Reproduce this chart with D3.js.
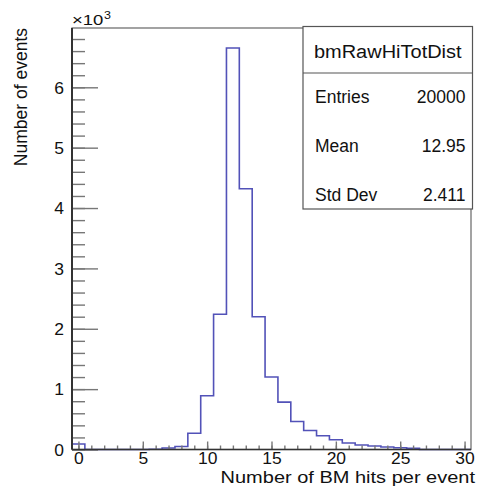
<!DOCTYPE html>
<html>
<head>
<meta charset="utf-8">
<script src="https://cdn.jsdelivr.net/npm/d3@7"></script>
<style>
  html, body { margin: 0; padding: 0; background: #fff; }
  svg { display: block; font-family: "Liberation Sans", Arial, sans-serif; }
</style>
</head>
<body>
<svg id="chart" width="477" height="486"></svg>
<script>
// histogram bins: width 1, first bin starts at -0.5
const binStart = -0.5;
const binWidth = 1;
const binCounts = [90, 0, 0, 0, 0, 0, 3, 25, 50, 270, 890, 2240, 6650, 4320, 2200,
    1200, 785, 465, 316, 228, 162, 107, 74, 58, 41, 30, 18, 0, 0, 0, 0];

const xMajorTicks = [0, 5, 10, 15, 20, 25, 30];
const xMinorTicks = d3.range(0, 31, 1);
const yMajorTicks = [0, 1000, 2000, 3000, 4000, 5000, 6000];
const yMinorTicks = d3.range(0, 7000, 200);

const statsTitle = 'bmRawHiTotDist';
const statsNames = ['Entries', 'Mean', 'Std Dev'];
const statsValues = ['20000', '12.95', '2.411'];

const xTitle = 'Number of BM hits per event';
const yTitle = 'Number of events';

const frame = { left: 72, right: 471, top: 28, bottom: 449.5 };

let svg = d3.select('#chart');

let x = d3.scaleLinear()
    .domain([binStart, binStart + binWidth * binCounts.length])
    .range([frame.left, frame.right]);
let y = d3.scaleLinear()
    .domain([0, d3.max(binCounts) * 1.05])
    .range([frame.bottom, frame.top]);

// text helper, sy squashes glyphs vertically like the reference
function label(parent, str, px, py, size, anchor, sy) {
    return parent.append('text')
        .attr('transform', `translate(${px},${py}) scale(1,${sy})`)
        .attr('text-anchor', anchor)
        .style('font-size', size + 'px')
        .attr('fill', '#111')
        .text(str);
}

// frame
svg.append('rect')
    .attr('x', frame.left).attr('y', frame.top)
    .attr('width', frame.right - frame.left)
    .attr('height', frame.bottom - frame.top)
    .attr('fill', 'none')
    .attr('stroke', '#666')
    .attr('stroke-width', 1.2);

// histogram outline
let pts = [];
binCounts.forEach((c, i) => {
    let lo = binStart + i * binWidth;
    pts.push([lo, c], [lo + binWidth, c]);
});
svg.append('path')
    .datum(pts)
    .attr('fill', 'none')
    .attr('stroke', '#5252b8')
    .attr('stroke-width', 1.6)
    .attr('d', d3.line().x(d => x(d[0])).y(d => y(d[1])));

// y axis
let yMinor = svg.append('g')
    .attr('transform', `translate(${frame.left},0)`)
    .call(d3.axisLeft(y).tickValues(yMinorTicks).tickSize(-13).tickFormat(''));
let yMajor = svg.append('g')
    .attr('transform', `translate(${frame.left},0)`)
    .call(d3.axisLeft(y).tickValues(yMajorTicks).tickSize(-26).tickPadding(8)
        .tickFormat(d => d / 1000));
yMajor.selectAll('text')
    .attr('dy', null)
    .attr('y', 6.2)
    .attr('transform', 'scale(1,0.93)')
    .attr('fill', '#111')
    .style('font-size', '17.5px')
    .style('font-family', '"Liberation Sans", Arial, sans-serif');

// x axis
let xMinor = svg.append('g')
    .attr('transform', `translate(0,${frame.bottom})`)
    .call(d3.axisBottom(x).tickValues(xMinorTicks).tickSize(-4).tickFormat(''));
let xMajor = svg.append('g')
    .attr('transform', `translate(0,${frame.bottom})`)
    .call(d3.axisBottom(x).tickValues(xMajorTicks).tickSize(-8));
xMajor.selectAll('text')
    .attr('dy', null)
    .attr('y', 15 / 0.93)
    .attr('transform', 'scale(1,0.93)')
    .attr('fill', '#111')
    .style('font-size', '17.5px')
    .style('font-family', '"Liberation Sans", Arial, sans-serif');

[yMinor, yMajor, xMinor, xMajor].forEach(g => {
    g.select('.domain').remove();
    g.selectAll('line').attr('stroke', '#777').attr('stroke-width', 1.4);
});

// axis lines on top
svg.append('line')
    .attr('x1', frame.left).attr('x2', frame.left)
    .attr('y1', frame.top).attr('y2', frame.bottom)
    .attr('stroke', '#333').attr('stroke-width', 2);
svg.append('line')
    .attr('x1', frame.left).attr('x2', frame.right)
    .attr('y1', frame.bottom).attr('y2', frame.bottom)
    .attr('stroke', '#333').attr('stroke-width', 1.6);

// exponent label
label(svg, '\u00d710', 72, 25, 18.5, 'start', 0.8);
label(svg, '3', 104, 18.5, 12.5, 'start', 0.87);

// axis titles
label(svg, xTitle, 475, 482.5, 20, 'end', 0.79);
svg.append('text')
    .attr('transform', `translate(27,${frame.top}) rotate(-90)`)
    .attr('text-anchor', 'end')
    .style('font-size', '17.5px')
    .attr('fill', '#111')
    .text(yTitle);

// stats box
let box = { left: 303, right: 472.5, top: 26.5, bottom: 209, sep: 73 };
svg.append('rect')
    .attr('x', box.left).attr('y', box.top)
    .attr('width', box.right - box.left)
    .attr('height', box.bottom - box.top)
    .attr('fill', '#fff')
    .attr('stroke', '#555')
    .attr('stroke-width', 1.2);
svg.append('line')
    .attr('x1', box.left).attr('x2', box.right)
    .attr('y1', box.sep).attr('y2', box.sep)
    .attr('stroke', '#555').attr('stroke-width', 1.2);
label(svg, statsTitle, (box.left + box.right) / 2, 58, 20, 'middle', 0.93);

let rowBase = [102.5, 151.5, 201];
statsNames.forEach((n, i) => {
    label(svg, n, 315, rowBase[i], 17.5, 'start', 1);
    label(svg, statsValues[i], 465.5, rowBase[i], 17.5, 'end', 1);
});
</script>
</body>
</html>
